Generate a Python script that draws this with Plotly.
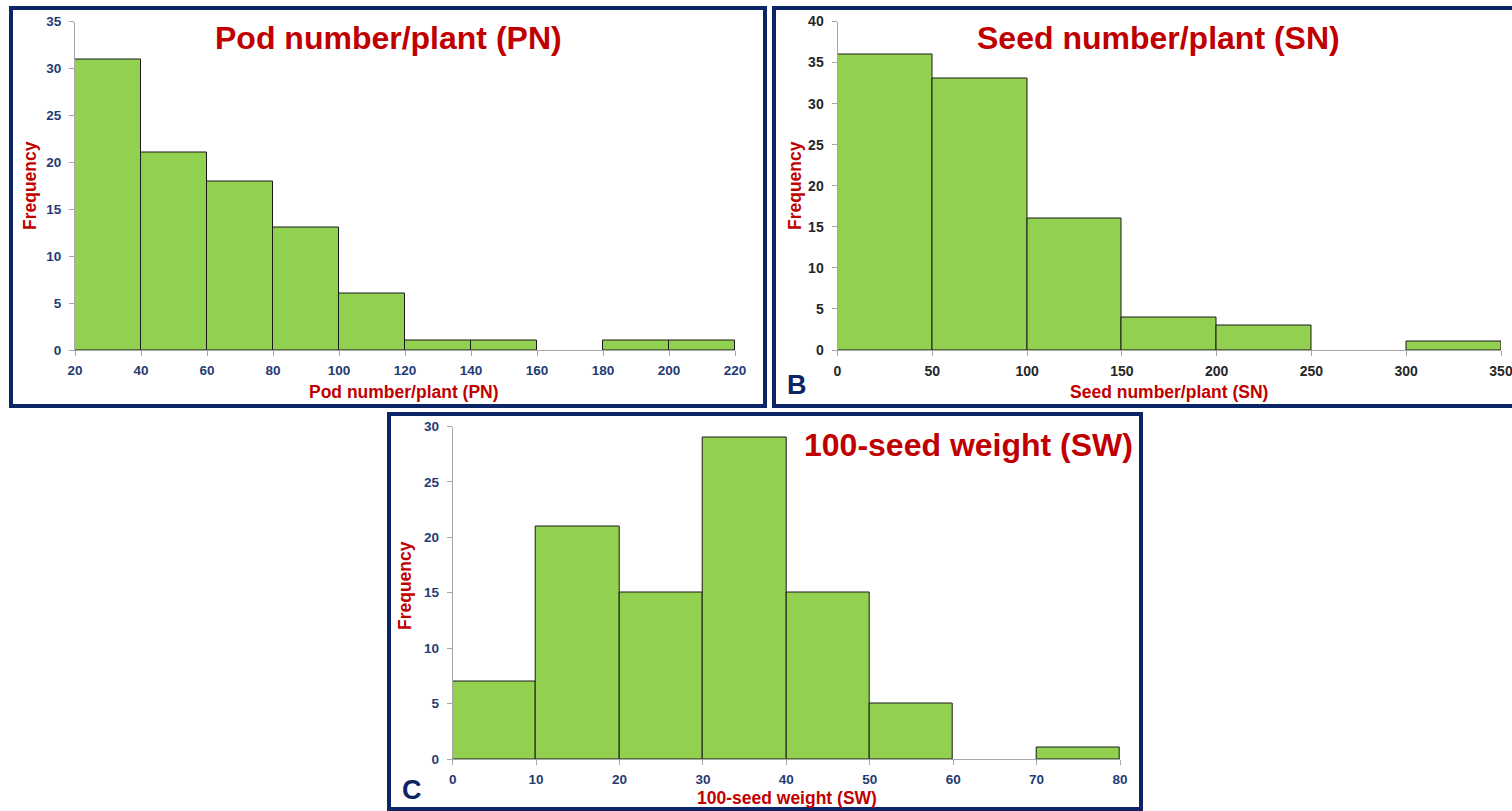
import plotly.graph_objects as go

# ---------------- data ----------------
pn_edges = [20, 40, 60, 80, 100, 120, 140, 160, 180, 200, 220]
pn_counts = [31, 21, 18, 13, 6, 1, 1, 0, 1, 1]

sn_edges = [0, 50, 100, 150, 200, 250, 300, 350]
sn_counts = [36, 33, 16, 4, 3, 0, 1]

sw_edges = [0, 10, 20, 30, 40, 50, 60, 70, 80]
sw_counts = [7, 21, 15, 29, 15, 5, 0, 1]

pn_yticks = [0, 5, 10, 15, 20, 25, 30, 35]
sn_yticks = [0, 5, 10, 15, 20, 25, 30, 35, 40]
sw_yticks = [0, 5, 10, 15, 20, 25, 30]

titles = ["Pod number/plant (PN)", "Seed number/plant (SN)", "100-seed weight (SW)"]
ylabel = "Frequency"

# ---------------- layout helpers ----------------
W, H = 1512, 811
def px(x):
    return x / W
def py(y):
    return 1 - y / H

GREEN = "#92d050"
RED = "#c00000"
NAVY = "#0c2566"
TICKNAVY = "#243b74"
TICKDARK = "#262626"
AXGRAY = "#a6a6a6"
FONT = "Arial, Liberation Sans, sans-serif"

def bars(edges, counts, xa, ya):
    xs, ys, ws = [], [], []
    for i, c in enumerate(counts):
        if c > 0:
            xs.append((edges[i] + edges[i + 1]) / 2)
            ys.append(c)
            ws.append(edges[i + 1] - edges[i])
    return go.Bar(x=xs, y=ys, width=ws, xaxis=xa, yaxis=ya,
                  marker=dict(color=GREEN, line=dict(color="#1a1a1a", width=1)),
                  showlegend=False, hoverinfo="x+y")

fig = go.Figure()
fig.add_trace(bars(pn_edges, pn_counts, "x", "y"))
fig.add_trace(bars(sn_edges, sn_counts, "x2", "y2"))
fig.add_trace(bars(sw_edges, sw_counts, "x3", "y3"))

def xaxis(dom, edges, anchor, color, size):
    return dict(domain=dom, range=[edges[0], edges[-1]], anchor=anchor,
                tickvals=edges, showline=True, linecolor=AXGRAY, linewidth=1,
                ticks="outside", ticklen=5, tickcolor=AXGRAY, showgrid=False,
                zeroline=False, ticklabelstandoff=3, fixedrange=True,
                automargin=False, ticklabeloverflow="allow",
                tickfont=dict(family=FONT, size=size, color=color, weight="bold"))

def yaxis(dom, ticks, anchor, color, size):
    return dict(domain=dom, range=[0, ticks[-1]], anchor=anchor,
                tickvals=ticks, showline=True, linecolor=AXGRAY, linewidth=1,
                ticks="outside", ticklen=5, tickcolor=AXGRAY, showgrid=False,
                zeroline=False, ticklabelstandoff=5, fixedrange=True,
                automargin=False, ticklabeloverflow="allow",
                tickfont=dict(family=FONT, size=size, color=color, weight="bold"))

fig.update_layout(
    width=W, height=H,
    margin=dict(l=0, r=0, t=0, b=0, pad=0, autoexpand=False),
    paper_bgcolor="white", plot_bgcolor="white",
    bargap=0,
    xaxis=xaxis([px(75), px(735)], pn_edges, "y", TICKNAVY, 13.5),
    yaxis=yaxis([py(350), py(21.5)], pn_yticks, "x", TICKNAVY, 13.5),
    xaxis2=xaxis([px(837.5), px(1501)], sn_edges, "y2", TICKDARK, 14),
    yaxis2=yaxis([py(350), py(21.5)], sn_yticks, "x2", TICKDARK, 14),
    xaxis3=xaxis([px(452.7), px(1120)], sw_edges, "y3", TICKNAVY, 13.5),
    yaxis3=yaxis([py(759), py(426.5)], sw_yticks, "x3", TICKNAVY, 13.5),
)

# panel borders
for (x0, y0, x1, y1) in [(11, 8, 765, 406), (774, 8, 1516, 406), (389, 414, 1141, 809)]:
    fig.add_shape(type="rect", xref="paper", yref="paper",
                  x0=px(x0), x1=px(x1), y0=py(y1), y1=py(y0),
                  line=dict(color=NAVY, width=4), fillcolor="rgba(0,0,0,0)")

def ann(text, x, y, size, color, angle=0):
    fig.add_annotation(text=text, x=px(x), y=py(y), xref="paper", yref="paper",
                       showarrow=False, xanchor="center", yanchor="middle",
                       textangle=angle,
                       font=dict(family=FONT, size=size, color=color, weight="bold"))

# big titles
ann(titles[0], 388, 38, 32, RED)
ann(titles[1], 1158, 38, 32, RED)
ann(titles[2], 968, 445, 32, RED)

# axis titles
ann(titles[0], 404, 392, 17.5, RED)
ann(titles[1], 1169, 392, 17.5, RED)
ann(titles[2], 787, 798, 17.5, RED)
ann(ylabel, 30, 186, 17.5, RED, -90)
ann(ylabel, 795, 186, 17.5, RED, -90)
ann(ylabel, 405, 586, 17.5, RED, -90)

# panel letters
ann("B", 797, 385, 27, NAVY)
ann("C", 412, 790, 27, NAVY)

fig.write_html(
    "out.html",
    config={"displayModeBar": False},
    post_script=(
        "document.documentElement.style.margin='0';"
        "document.documentElement.style.overflow='hidden';"
        "document.body.style.margin='0';"
        "document.body.style.overflow='hidden';"
    ),
)
